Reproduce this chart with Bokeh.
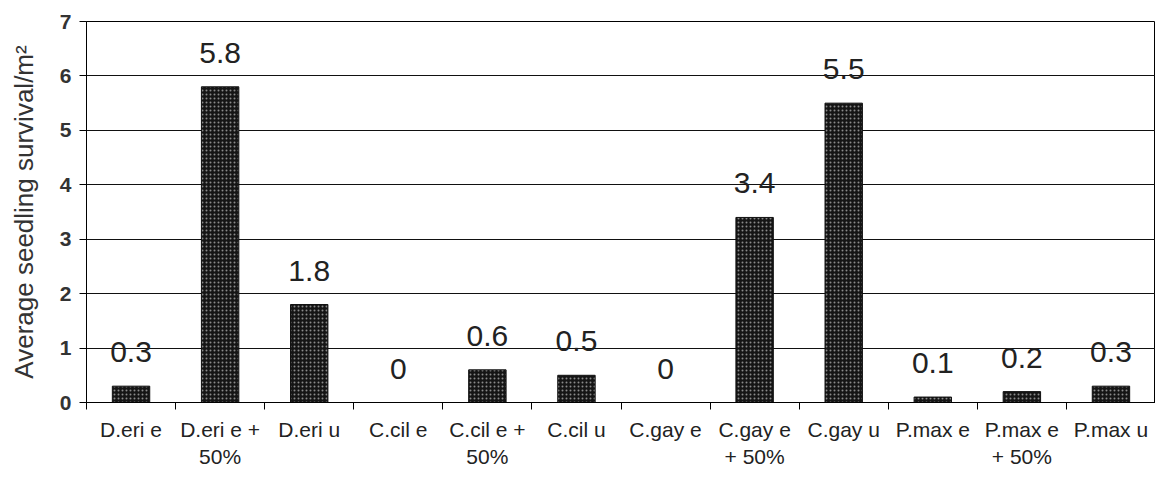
from bokeh.plotting import figure
from bokeh.models import ColumnDataSource, FixedTicker, LinearAxis, Range1d
from bokeh.core.properties import value
from bokeh.embed import file_html
from bokeh.resources import INLINE

categories = ["D.eri e", "D.eri e +\n50%", "D.eri u", "C.cil e", "C.cil e +\n50%", "C.cil u",
              "C.gay e", "C.gay e\n+ 50%", "C.gay u", "P.max e", "P.max e\n+ 50%", "P.max u"]
survival = [0.3, 5.8, 1.8, 0, 0.6, 0.5, 0, 3.4, 5.5, 0.1, 0.2, 0.3]
value_labels = ["0.3", "5.8", "1.8", "0", "0.6", "0.5", "0", "3.4", "5.5", "0.1", "0.2", "0.3"]
y_ticks = [0, 1, 2, 3, 4, 5, 6, 7]

n = len(categories)
xs = [i + 0.5 for i in range(n)]
src = ColumnDataSource(dict(x=xs, top=survival, lab=value_labels))

FONT = "Liberation Sans"

p = figure(width=1155, height=471, output_backend="svg", toolbar_location=None,
           x_range=Range1d(0, n), y_range=Range1d(0, 7),
           min_border_left=86, min_border_right=0, min_border_top=21, min_border_bottom=68,
           x_axis_type=None)
p.outline_line_color = "black"
p.outline_line_width = 1
p.background_fill_color = "white"

p.vbar(x="x", top="top", bottom=0, width=0.42, source=src,
       fill_color="#151515", line_color="#111111", line_width=1,
       hatch_pattern=".", hatch_color="#8a8a8a", hatch_scale=4, hatch_weight=1)

p.text(x="x", y="top", text="lab", source=src, text_align="center", text_baseline="alphabetic",
       y_offset=-34, text_font=value(FONT), text_font_size="30px", text_color="#222222")

# y axis
p.yaxis.ticker = FixedTicker(ticks=y_ticks)
p.yaxis.axis_label = "Average seedling survival/m\u00b2"
p.yaxis.axis_label_text_font = FONT
p.yaxis.axis_label_text_font_style = "normal"
p.yaxis.axis_label_text_font_size = "26px"
p.yaxis.axis_label_text_color = "#333333"
p.yaxis.axis_label_standoff = 18
p.yaxis.major_label_text_font = FONT
p.yaxis.major_label_text_font_size = "21px"
p.yaxis.major_label_text_font_style = "bold"
p.yaxis.major_label_text_color = "#333333"
p.yaxis.major_tick_out = 7
p.yaxis.major_tick_in = 0
p.yaxis.minor_tick_line_color = None
p.yaxis.axis_line_color = "black"
p.yaxis.major_label_standoff = 8

p.ygrid.ticker = FixedTicker(ticks=y_ticks)
p.ygrid.grid_line_color = "#111111"
p.ygrid.grid_line_width = 1
p.xgrid.grid_line_color = None

# x axis: tick marks at category boundaries
ax_ticks = LinearAxis(ticker=FixedTicker(ticks=list(range(n + 1))), major_label_text_font_size="0px",
                      major_tick_out=7, major_tick_in=0, minor_tick_line_color=None,
                      axis_line_color="black", major_label_standoff=0)
ax_ticks.major_label_overrides = {i: "" for i in range(n + 1)}
p.add_layout(ax_ticks, "below")

# x axis: category labels at centers
ax_lab = LinearAxis(ticker=FixedTicker(ticks=xs), major_tick_line_color=None, minor_tick_line_color=None,
                    axis_line_color=None, major_label_standoff=2,
                    major_label_text_font=FONT, major_label_text_font_size="21px",
                    major_label_text_line_height=1.2,
                    major_label_text_color="#222222")
ax_lab.major_label_overrides = {x: c for x, c in zip(xs, categories)}
p.add_layout(ax_lab, "below")

open("out.html", "w").write(file_html(p, INLINE))
